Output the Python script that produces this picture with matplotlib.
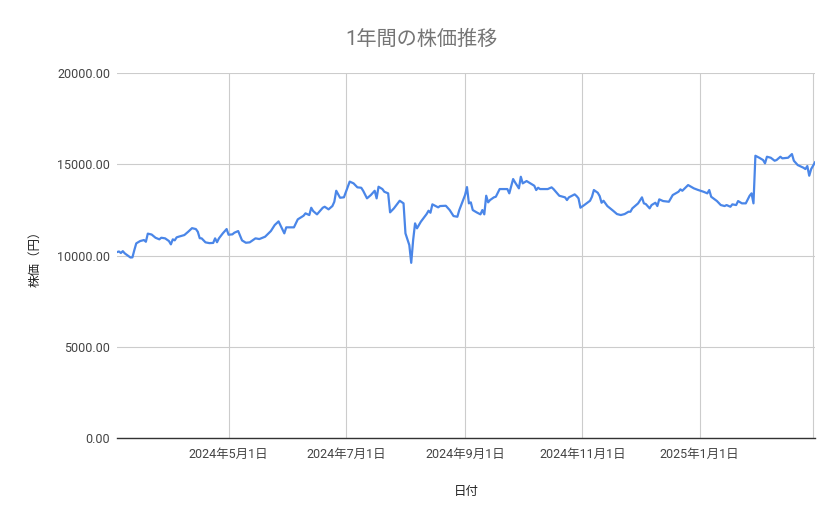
import matplotlib
matplotlib.use("Agg")
import matplotlib.pyplot as plt
from matplotlib.ticker import FuncFormatter
import pandas as pd

plt.rcParams['font.family'] = ['Roboto', 'Noto Sans CJK JP', 'DejaVu Sans']

# ---- data ----
dates = [
    "2024-03-04", "2024-03-05", "2024-03-06", "2024-03-07", "2024-03-08", "2024-03-10",
    "2024-03-11", "2024-03-12", "2024-03-13", "2024-03-14", "2024-03-16", "2024-03-18",
    "2024-03-19", "2024-03-20", "2024-03-22", "2024-03-24", "2024-03-26", "2024-03-27",
    "2024-03-29", "2024-03-31", "2024-04-01", "2024-04-02", "2024-04-03", "2024-04-04",
    "2024-04-05", "2024-04-08", "2024-04-10", "2024-04-12", "2024-04-14", "2024-04-15",
    "2024-04-16", "2024-04-17", "2024-04-19", "2024-04-21", "2024-04-23", "2024-04-24",
    "2024-04-25", "2024-04-26", "2024-04-28", "2024-04-30", "2024-05-01", "2024-05-03",
    "2024-05-04", "2024-05-06", "2024-05-08", "2024-05-10", "2024-05-12", "2024-05-15",
    "2024-05-17", "2024-05-20", "2024-05-23", "2024-05-25", "2024-05-27", "2024-05-30",
    "2024-05-31", "2024-06-04", "2024-06-06", "2024-06-09", "2024-06-10", "2024-06-12",
    "2024-06-13", "2024-06-14", "2024-06-16", "2024-06-19", "2024-06-20", "2024-06-22",
    "2024-06-24", "2024-06-25", "2024-06-26", "2024-06-28", "2024-06-30", "2024-07-03",
    "2024-07-05", "2024-07-07", "2024-07-09", "2024-07-10", "2024-07-12", "2024-07-14",
    "2024-07-16", "2024-07-17", "2024-07-18", "2024-07-20", "2024-07-21", "2024-07-23",
    "2024-07-24", "2024-07-26", "2024-07-28", "2024-07-29", "2024-07-31", "2024-08-01",
    "2024-08-03", "2024-08-04", "2024-08-05", "2024-08-06", "2024-08-07", "2024-08-09",
    "2024-08-12", "2024-08-13", "2024-08-14", "2024-08-15", "2024-08-18", "2024-08-19",
    "2024-08-22", "2024-08-24", "2024-08-26", "2024-08-28", "2024-08-29", "2024-08-31",
    "2024-09-01", "2024-09-02", "2024-09-03", "2024-09-04", "2024-09-05", "2024-09-07",
    "2024-09-09", "2024-09-10", "2024-09-11", "2024-09-12", "2024-09-13", "2024-09-14",
    "2024-09-16", "2024-09-17", "2024-09-19", "2024-09-23", "2024-09-24", "2024-09-26",
    "2024-09-27", "2024-09-29", "2024-09-30", "2024-10-01", "2024-10-03", "2024-10-05",
    "2024-10-07", "2024-10-08", "2024-10-09", "2024-10-10", "2024-10-14", "2024-10-16",
    "2024-10-17", "2024-10-20", "2024-10-23", "2024-10-24", "2024-10-25", "2024-10-28",
    "2024-10-29", "2024-10-30", "2024-10-31", "2024-11-02", "2024-11-05", "2024-11-06",
    "2024-11-07", "2024-11-09", "2024-11-10", "2024-11-11", "2024-11-12", "2024-11-14",
    "2024-11-17", "2024-11-19", "2024-11-21", "2024-11-23", "2024-11-25", "2024-11-26",
    "2024-11-27", "2024-11-30", "2024-12-02", "2024-12-03", "2024-12-04", "2024-12-06",
    "2024-12-07", "2024-12-09", "2024-12-10", "2024-12-11", "2024-12-13", "2024-12-16",
    "2024-12-18", "2024-12-21", "2024-12-22", "2024-12-23", "2024-12-26", "2024-12-29",
    "2024-12-31", "2025-01-03", "2025-01-05", "2025-01-06", "2025-01-07", "2025-01-10",
    "2025-01-12", "2025-01-14", "2025-01-15", "2025-01-17", "2025-01-18", "2025-01-20",
    "2025-01-21", "2025-01-23", "2025-01-25", "2025-01-27", "2025-01-28", "2025-01-29",
    "2025-01-30", "2025-02-01", "2025-02-03", "2025-02-04", "2025-02-05", "2025-02-07",
    "2025-02-09", "2025-02-10", "2025-02-12", "2025-02-13", "2025-02-16", "2025-02-18",
    "2025-02-19", "2025-02-21", "2025-02-24", "2025-02-25", "2025-02-26", "2025-02-27",
    "2025-02-28", "2025-03-02",
]
prices = [
    10190, 10220, 10140, 10240, 10120, 9970,
    9890, 9900, 10300, 10667, 10793, 10848,
    10755, 11200, 11150, 10975, 10887, 10975,
    10941, 10793, 10612, 10887, 10832, 10996,
    11030, 11122, 11303, 11500, 11450, 11303,
    10950, 10941, 10722, 10680, 10690, 10941,
    10730, 10941, 11215, 11451, 11140, 11160,
    11249, 11341, 10830, 10700, 10722, 10941,
    10903, 11030, 11341, 11670, 11870, 11215,
    11544, 11544, 11982, 12180, 12311, 12218,
    12618, 12437, 12256, 12618, 12673, 12530,
    12711, 12947, 13549, 13166, 13190, 14050,
    13955, 13736, 13714, 13549, 13133, 13314,
    13549, 13133, 13769, 13642, 13495, 13407,
    12366, 12585, 12859, 13002, 12859, 11215,
    10574, 9600, 10848, 11763, 11490, 11852,
    12273, 12454, 12344, 12804, 12640, 12711,
    12727, 12492, 12163, 12125, 12492, 13040,
    13314, 13750, 12859, 12914, 12492, 12366,
    12256, 12492, 12256, 13276, 12914, 13040,
    13188, 13221, 13642, 13642, 13407, 14191,
    14010, 13681, 14317, 13955, 14081, 13955,
    13824, 13589, 13714, 13642, 13642, 13736,
    13642, 13276, 13188, 13040, 13188, 13352,
    13259, 13133, 12620, 12766, 13002, 13221,
    13589, 13440, 13259, 12892, 13002, 12711,
    12454, 12273, 12218, 12273, 12400, 12400,
    12585, 12859, 13188, 12859, 12821, 12585,
    12766, 12892, 12711, 13078, 12985, 12947,
    13314, 13495, 13626, 13549, 13861, 13681,
    13600, 13495, 13407, 13589, 13221, 12985,
    12766, 12711, 12766, 12673, 12804, 12766,
    12985, 12859, 12859, 13276, 13407, 12859,
    15467, 15358, 15232, 15051, 15413, 15358,
    15194, 15232, 15413, 15325, 15358, 15560,
    15194, 14958, 14810, 14738, 14903, 14372,
    14738, 15106,
]

grid_dates = ["2024-05-01", "2024-07-01", "2024-09-01", "2024-11-01", "2025-01-01", "2025-03-01"]
grid_labels = ["2024年5月1日", "2024年7月1日", "2024年9月1日", "2024年11月1日", "2025年1月1日", ""]
y_ticks = [0, 5000, 10000, 15000, 20000]

x = pd.to_datetime(dates)

fig = plt.figure(figsize=(8.39, 5.19), dpi=100, facecolor="white")
ax = fig.add_axes([0.1395, 0.156, 0.8319, 0.7033])

ax.plot(x, prices, color="#4a86e8", lw=1.6, solid_joinstyle="round", zorder=3)

ax.set_xlim(x[0], x[-1])
ax.set_ylim(0, 20000)
ax.set_yticks(y_ticks)
ax.yaxis.set_major_formatter(FuncFormatter(lambda v, p: f"{v:.2f}"))
ax.set_xticks(pd.to_datetime(grid_dates))
ax.set_xticklabels(grid_labels)

ax.grid(True, color="#cccccc", lw=0.8, zorder=0)
ax.set_axisbelow(True)
for s in ("top", "right", "left"):
    ax.spines[s].set_visible(False)
ax.spines["bottom"].set_color("#333333")
ax.spines["bottom"].set_linewidth(1.0)
ax.tick_params(axis="both", length=0, labelsize=9, colors="#444444")
ax.tick_params(axis="x", pad=7)
ax.tick_params(axis="y", pad=5)

ax.set_xlabel("日付", fontsize=9, color="#222222")
ax.set_ylabel("株価（円）", fontsize=9, color="#222222")
ax.xaxis.set_label_coords(0.5, -0.128)
ax.yaxis.set_label_coords(-0.108, 0.5)

fig.text(0.502, 0.924, "1年間の株価推移", ha="center", va="center",
         fontsize=14.5, color="#757575")

fig.savefig("out.png", dpi=100, facecolor="white")
